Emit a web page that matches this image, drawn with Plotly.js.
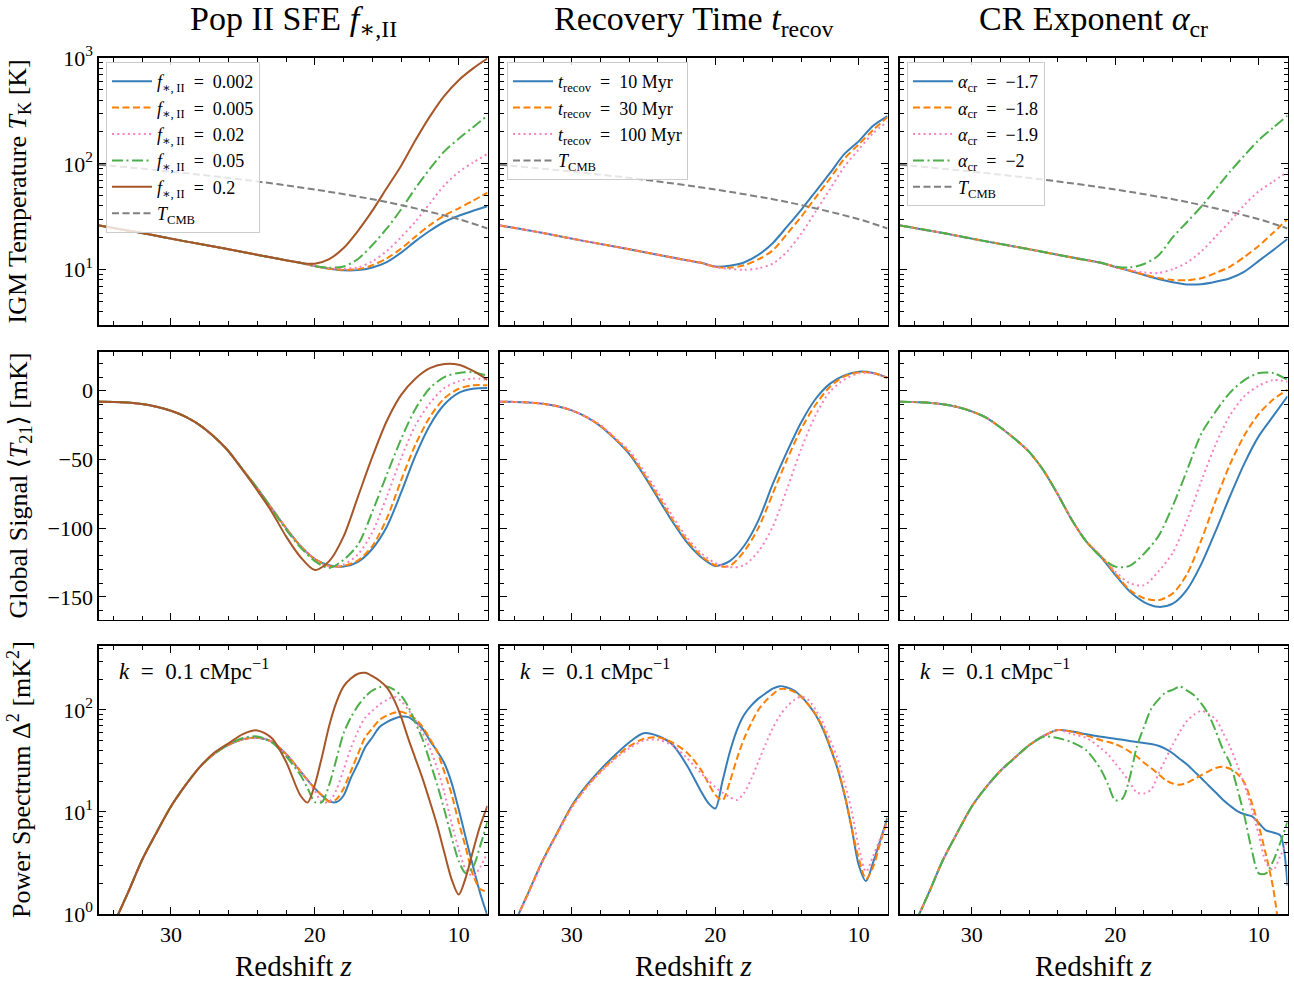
<!DOCTYPE html>
<html><head><meta charset="utf-8">
<script src="https://cdn.plot.ly/plotly-3.0.1.min.js"></script>
<style>html,body{margin:0;padding:0;background:#fff}#chart{width:1294px;height:981px}</style>
</head><body><div id="chart"></div>
<script>
// ---------------- DATA ----------------
// Row 1: IGM temperature T_K [K]
const zT = [35,32,29,26,23,21,20,19,18,17,16,15,14,13,12,11,10,9,8];
const zCMB = [35,30,25,20,15,10,8];
const tCMB = [98.1,84.5,70.9,57.2,43.6,30.0,24.5];

const tkSfe002 = [26.2,22.2,18.5,15.6,13.0,11.6,10.8,10.2,9.85,9.9,10.5,11.8,14.5,18.6,23.3,28.2,32.3,36.0,39.8];
const tkSfe005 = [26.2,22.2,18.5,15.6,13.0,11.6,10.8,10.2,9.95,10.1,11.0,12.8,15.8,20.6,26.4,32.5,38.0,44.9,53.5];
const tkSfe02  = [26.2,22.2,18.5,15.6,13.0,11.6,10.8,10.3,10.2,10.5,12.0,15.0,20.3,28.6,42.3,62.7,83.6,103,124];
const tkSfe05  = [26.2,22.2,18.5,15.6,13.0,11.6,10.8,10.45,10.7,12.6,17.1,24.5,37.2,59,90,131,173,222,286];
const tkSfe2   = [26.2,22.2,18.5,15.6,13.0,11.6,11.4,12.6,16.0,23.3,36.1,59,96,168,281,439,617,798,990];

const tkRec10  = [26.2,22.2,18.5,15.6,13.0,11.6,10.7,10.9,11.7,13.8,17.8,25.5,37,55,82,124,164,229,283];
const tkRec30  = [26.2,22.2,18.5,15.6,13.0,11.6,10.6,10.45,11.0,12.5,15.2,21.8,31.8,48.3,73,112,153,209,276];
const tkRec100 = [26.2,22.2,18.5,15.6,13.0,11.6,10.6,10.2,9.95,10.3,11.4,14.8,22,35.5,58,94,137,195,251];

const tkCr17 = [26.2,22.2,18.5,15.6,13.0,11.6,10.6,9.75,8.9,8.15,7.6,7.25,7.3,7.7,8.3,9.6,12.1,15.3,19.5];
const tkCr18 = [26.2,22.2,18.5,15.6,13.0,11.6,10.6,9.8,9.0,8.35,8.0,7.95,8.3,9.3,10.7,13.2,16.8,22.3,30];
const tkCr19 = [26.2,22.2,18.5,15.6,13.0,11.6,10.6,9.9,9.4,9.3,10.1,11.7,14.9,20.6,28.6,41,55,68,84];
const tkCr20 = [26.2,22.2,18.5,15.6,13.0,11.6,10.7,10.5,11.3,13.6,20.2,28.2,39.5,57.7,84.5,120,168,220,285];

// Row 2: global signal <T21> [mK]
const zG = [35,34,33,32,31,30,29,28,27,26,25,24,23,22,21,20,19,18,17,16,15,14,13,12,11,10,9,8];
const gsSfe002 = [-8.0,-8.1,-8.6,-9.7,-11.6,-14.5,-18.8,-25,-33.5,-44,-57.5,-71,-85.5,-100,-113,-122.5,-127,-128,-124.5,-115,-99,-74,-47,-25,-10,-1.5,1.5,2];
const gsSfe005 = [-8.0,-8.1,-8.6,-9.7,-11.6,-14.5,-18.8,-25,-33.5,-44,-57.5,-71,-85.5,-100,-113,-122.5,-127.5,-127.5,-123.5,-113,-93,-65,-39,-19,-5.5,1.5,4,4];
const gsSfe02  = [-8.0,-8.1,-8.6,-9.7,-11.6,-14.5,-18.8,-25,-33.5,-44,-57.5,-71,-85.5,-100,-113,-122.5,-128,-126.5,-119,-103,-77,-49,-25,-9,2,7,9,8];
const gsSfe05  = [-8.0,-8.1,-8.6,-9.7,-11.6,-14.5,-18.8,-25,-33.5,-44,-57.5,-71,-86,-101,-114,-124,-129,-123,-112,-88,-61,-35,-13,2,10,13,13.5,11];
const gsSfe2   = [-8.0,-8.1,-8.6,-9.7,-11.6,-14.5,-18.8,-25,-33.5,-44,-58,-72.5,-88,-106,-121,-130.5,-124,-106,-77,-48,-22,-3,9,16.5,19.5,19,14.5,8];

const gsRec10  = [-8.0,-8.1,-8.5,-9.5,-11.3,-14.3,-19,-25.7,-35,-46,-61,-78,-95,-110,-121,-127.5,-124,-113,-94.5,-68,-44.3,-22.7,-5.8,5.2,11.2,13.9,13,9.5];
const gsRec30  = [-8.0,-8.1,-8.5,-9.5,-11.3,-14.3,-19,-25.5,-34.5,-45,-60,-76.5,-93.5,-108.5,-120,-127,-127.5,-117,-100,-75,-50,-27.5,-10,3,10.5,13.5,13,9.5];
const gsRec100 = [-8.0,-8.1,-8.5,-9.5,-11.3,-14.2,-18.8,-25,-34,-43.5,-58,-74,-91,-106.5,-118,-125.5,-128.5,-127,-117,-99,-71.5,-42,-17.6,-0.5,8.2,12.8,12.8,9];

const gsCr17 = [-8.0,-8.2,-8.7,-9.8,-11.8,-15,-19.5,-26.7,-35,-44.5,-58,-75.5,-94.5,-110,-121,-134,-146,-153.8,-157.3,-155,-144.7,-126,-102,-76.6,-52.8,-33,-18.5,-4];
const gsCr18 = [-8.0,-8.2,-8.7,-9.8,-11.8,-15,-19.5,-26.7,-35,-44.5,-58,-75.5,-94.5,-110,-120.5,-133,-145,-151,-152.5,-147.6,-133.4,-108.6,-79.8,-53.4,-32.4,-16.8,-6.4,0.8];
const gsCr19 = [-8.0,-8.2,-8.7,-9.8,-11.8,-15,-19.5,-26.7,-35,-44.5,-58,-75.5,-94.5,-110,-120,-131.5,-140,-141.5,-131.6,-118,-94.2,-65.6,-38.9,-17.8,-3.9,3.7,7.8,6.6];
const gsCr20 = [-8.0,-8.2,-8.7,-9.8,-11.8,-15,-19.5,-26.7,-35,-44.5,-58,-75.5,-94.5,-110,-121,-128,-127.5,-118.6,-106,-84,-57.9,-31.1,-15,-1.3,7.8,12.9,12.9,8];

// Row 3: power spectrum Delta^2 [mK^2] at k = 0.1 cMpc^-1
const zP = [35,34,33,32,31,30,29,28,27,26,25,24,23,22,21,20.5,20,19.5,19,18.5,18,17.5,17,16.5,16,15.5,15,14.5,14,13.5,13,12.5,12,11.5,11,10.5,10,9.5,9,8.5,8];
const psSfe002 = [0.36,0.78,1.6,3.4,6.3,11.3,18.2,27.5,37,45.5,51.5,53.5,49,37,25,20.5,17,14.5,12.7,12.5,14.5,21.5,30,43,54,68,76,82,86,85,76,65,50,39.5,30,19.4,10.6,5.5,2.9,1.58,0.96];
const psSfe005 = [0.36,0.78,1.6,3.4,6.3,11.3,18.2,27.5,37,45.5,51.5,53.5,49,37,25,20.5,17,14.5,12.6,13.3,17,25,37,54,66,80,88,94,96,90,81,68,52,39,24.7,15,7.9,4.4,2.4,1.75,1.66];
const psSfe02  = [0.36,0.78,1.6,3.4,6.3,11.3,18.2,27.5,37,45.5,51.5,53.5,49,37,25,20.5,16,12.5,12.6,16.5,26,42,62,84,98,113,125,135,122,100,79,59,42,27,15.5,7.8,4.3,2.7,2.35,2.9,4.0];
const psSfe05  = [0.36,0.78,1.6,3.4,6.3,11.3,18.2,27.5,37,46,53,55,48,35,23,17,12.5,12.5,18.5,33,59,84,110,135,155,167,170,158,138,107,74,51,31,18.6,10.5,5.7,3.3,2.5,2.9,4.7,8];
const psSfe2   = [0.36,0.78,1.6,3.4,6.3,11.3,18.2,27.5,38,47,58,63,53,31,14.5,12.4,18.5,35,70,119,170,203,226,231,214,193,166,126,85,52,33,21,12.6,7.4,4.0,2.2,1.55,2.3,4.2,7.4,11.5];

const psRec10  = [0.36,0.8,1.65,3.4,6.3,11.5,18,26,36,48,59,55.5,46,29,16,12.3,10.8,20,38,63,89,110,129,145,162,171,166,155,135,112,89,65,43,27,14.8,7,3.0,2.1,3.2,5.3,8.8];
const psRec30  = [0.36,0.8,1.65,3.4,6.3,11.3,17.5,25,34,44,52,54,48,38.5,26,19.3,14.7,13,19.5,33,52,74,100,122,142,160,160,150,134,112,90,67,44,28,15,7,3.5,2.2,2.9,5,8.5];
const psRec100 = [0.36,0.8,1.6,3.3,6.1,11,17,24.5,33,42,50,51,45,34,24,20.5,17.5,15.5,14,13.1,15.3,21,31,46,66,88,108,125,135,125,100,75,51,34,19.7,10.3,4.5,2.6,3.7,5.5,7.8];

const psCr17 = [0.36,0.78,1.6,3.4,6.3,11.3,17.5,25.3,34,45,55.5,63.5,61.5,57.7,54.6,53.3,52.1,51,49.7,48.5,47.4,46.3,44.6,41.5,37.6,33,29.2,25,21.4,18.2,15.5,13.2,11.5,10.2,9.5,9.1,7.8,6.6,6.3,5.9,1.9];
const psCr18 = [0.36,0.78,1.6,3.4,6.3,11.3,17.5,25.3,34,45,55.5,63.5,61,56,50.5,48.5,46.2,43,39,35,30.3,27,23.5,20.5,19,18.5,19.3,21,23,25,27,27.7,26.5,23.7,19.3,12.4,7.3,3.8,1.8,0.6,0.25];
const psCr19 = [0.36,0.78,1.6,3.4,6.3,11.3,17.5,25.3,34,45,56,63.5,58,53,41.9,36.5,30,24.5,19.5,15.5,15.2,16.5,23.5,32.9,45.6,61,78,90,98,91,81,60,43.6,28.8,18.6,10.8,6.0,3.2,2.7,3.7,5.2];
const psCr20 = [0.36,0.78,1.6,3.4,6.3,11.3,17.5,25.3,34,45,54.5,53,48,40,26,18.5,13,13.5,21.5,43.6,68,102,126,148,157,169,155,139,115,90,62,41,30,17,9.1,4.3,2.5,2.5,3.3,5,8];

// Labels
const EQ = '\u00a0\u00a0=\u00a0\u00a0';
const FSUB = '<i>f</i><sub>∗,\u2009II</sub>';
const colTitles = ['Pop II SFE <i>f</i><sub>∗,II</sub>', 'Recovery Time <i>t</i><sub>recov</sub>', 'CR Exponent <i>α</i><sub>cr</sub>'];
const sfeLabels = [FSUB+EQ+'0.002', FSUB+EQ+'0.005', FSUB+EQ+'0.02', FSUB+EQ+'0.05', FSUB+EQ+'0.2'];
const recLabels = ['<i>t</i><sub>recov</sub>'+EQ+'10\u00a0Myr','<i>t</i><sub>recov</sub>'+EQ+'30\u00a0Myr','<i>t</i><sub>recov</sub>'+EQ+'100\u00a0Myr'];
const crLabels  = ['<i>α</i><sub>cr</sub>'+EQ+'−1.7','<i>α</i><sub>cr</sub>'+EQ+'−1.8','<i>α</i><sub>cr</sub>'+EQ+'−1.9','<i>α</i><sub>cr</sub>'+EQ+'−2'];
const cmbLabel = '<i>T</i><sub>CMB</sub>';
const yTitles = ['IGM Temperature <i>T</i><sub>K</sub> [K]', 'Global Signal ⟨<i>T</i><sub>21</sub>⟩ [mK]', 'Power Spectrum Δ<sup>2</sup> [mK<sup>2</sup>]'];
const xTitle = 'Redshift <i>z</i>';
const kLabel = '<i>k</i>'+EQ+'0.1\u00a0cMpc<sup>−1</sup>';
const xTickVals = [30,20,10];
const tkTickVals = [10,100,1000], tkTickText = ['10<sup>1</sup>','10<sup>2</sup>','10<sup>3</sup>'];
const gsTickVals = [0,-50,-100,-150], gsTickText = ['0','−50','−100','−150'];
const psTickVals = [1,10,100], psTickText = ['10<sup>0</sup>','10<sup>1</sup>','10<sup>2</sup>'];

// ---------------- STYLE ----------------
const FONT = 'Liberation Serif, DejaVu Serif, serif';
const C = {blue:'#377eb8', orange:'#ff7f00', pink:'#f781bf', green:'#4daf4a', brown:'#a65628', grey:'#808080'};
const D = {solid:'solid', dashed:'7px,3.5px', dotted:'2px,3.3px', dashdot:'11px,3.5px,2px,3.5px'};
const styles = [[C.blue,D.solid],[C.orange,D.dashed],[C.pink,D.dotted],[C.green,D.dashdot],[C.brown,D.solid]];

const cols = [
  {labels: sfeLabels, T:[tkSfe002,tkSfe005,tkSfe02,tkSfe05,tkSfe2], G:[gsSfe002,gsSfe005,gsSfe02,gsSfe05,gsSfe2], P:[psSfe002,psSfe005,psSfe02,psSfe05,psSfe2]},
  {labels: recLabels, T:[tkRec10,tkRec30,tkRec100], G:[gsRec10,gsRec30,gsRec100], P:[psRec10,psRec30,psRec100]},
  {labels: crLabels, T:[tkCr17,tkCr18,tkCr19,tkCr20], G:[gsCr17,gsCr18,gsCr19,gsCr20], P:[psCr17,psCr18,psCr19,psCr20]}
];

const W = 1294, H = 981;
const colPx = [[99,487.5],[500,887.5],[900,1287.5]];
const rowPx = [[58,325],[351.5,619.5],[646,914]];
const colDom = colPx.map(p => [p[0]/W, p[1]/W]);
const rowDom = rowPx.map(p => [1-p[1]/H, 1-p[0]/H]);

const traces = [];
const layout = {
  width: W, height: H, margin:{l:0,r:0,t:0,b:0},
  paper_bgcolor:'#fff', plot_bgcolor:'#fff',
  font:{family:FONT, size:22, color:'#000'},
  showlegend:true, annotations:[]
};

const rowZ = [zT, zG, zP];
const TICKFONT = {family:FONT, size:22, color:'#000'};
for (let c=0;c<3;c++){
  const col = cols[c];
  const legName = c===0 ? 'legend' : 'legend'+(c+1);
  for (let r=0;r<3;r++){
    const idx = r*3+c+1;
    const xa = 'x'+(idx===1?'':idx), ya = 'y'+(idx===1?'':idx);
    const series = r===0 ? col.T : (r===1 ? col.G : col.P);
    series.forEach((vals,s)=>{
      traces.push({
        x: rowZ[r], y: vals, xaxis: xa, yaxis: ya, type:'scatter', mode:'lines',
        name: col.labels[s], legend: legName, legendgroup: 'c'+c+'s'+s,
        showlegend: r===0,
        line:{color:styles[s][0], dash:styles[s][1], width:2, shape:'spline', smoothing:0.8},
        hoverinfo:'skip'
      });
    });
    if (r===0){
      traces.push({
        x: zCMB, y: tCMB, xaxis: xa, yaxis: ya, type:'scatter', mode:'lines',
        name: cmbLabel, legend: legName, legendgroup:'c'+c+'cmb', showlegend:true,
        line:{color:C.grey, dash:D.dashed, width:2, shape:'spline', smoothing:0.8},
        hoverinfo:'skip'
      });
    }
    const xKey = 'xaxis'+(idx===1?'':idx), yKey = 'yaxis'+(idx===1?'':idx);
    layout[xKey] = {
      domain: colDom[c], anchor: ya, range:[35,8], autorange:false,
      tickmode:'array', tickvals: xTickVals, ticks:'inside', ticklen:7, tickwidth:1, tickcolor:'#000',
      minor:{tickmode:'array', tickvals:[34,32,28,26,24,22,18,16,14,12,8], ticks:'inside', ticklen:4, tickwidth:1, tickcolor:'#000'},
      showline:true, linewidth:1.6, linecolor:'#000', mirror:'allticks',
      showgrid:false, zeroline:false, showticklabels: r===2,
      tickfont:TICKFONT
    };
    let yax = {
      domain: rowDom[r], anchor: xa, ticks:'inside', ticklen:7, tickwidth:1, tickcolor:'#000',
      showline:true, linewidth:1.6, linecolor:'#000', mirror:'allticks',
      showgrid:false, zeroline:false, showticklabels: c===0,
      tickfont:TICKFONT, tickmode:'array', autorange:false
    };
    if (r===0){
      Object.assign(yax, {type:'log', range:[Math.log10(3),3], tickvals:tkTickVals, ticktext:tkTickText,
        minor:{tickmode:'array', tickvals:[4,5,6,7,8,9,20,30,40,50,60,70,80,90,200,300,400,500,600,700,800,900], ticks:'inside', ticklen:4, tickwidth:1, tickcolor:'#000'}});
    } else if (r===1){
      Object.assign(yax, {type:'linear', range:[-166.5,28.6], tickvals:gsTickVals, ticktext:gsTickText,
        minor:{tickmode:'array', tickvals:[20,10,-10,-20,-30,-40,-60,-70,-80,-90,-110,-120,-130,-140,-160], ticks:'inside', ticklen:4, tickwidth:1, tickcolor:'#000'}});
    } else {
      Object.assign(yax, {type:'log', range:[0,Math.log10(423)], tickvals:psTickVals, ticktext:psTickText,
        minor:{tickmode:'array', tickvals:[2,3,4,5,6,7,8,9,20,30,40,50,60,70,80,90,200,300,400], ticks:'inside', ticklen:4, tickwidth:1, tickcolor:'#000'}});
    }
    layout[yKey] = yax;
  }
  layout[legName] = {
    x: (colPx[c][0]+7)/W, y: 1-62/H, xanchor:'left', yanchor:'top',
    bgcolor:'rgba(255,255,255,0.8)', bordercolor:'#cccccc', borderwidth:1,
    font:{family:FONT, size:18, color:'#000'}, itemwidth:40, tracegroupgap:0,
    traceorder:'normal'
  };
  const cx = (colPx[c][0]+colPx[c][1])/2/W;
  layout.annotations.push({text: colTitles[c], x: cx, y: 1-21/H, xref:'paper', yref:'paper', xanchor:'center', yanchor:'middle', showarrow:false, font:{family:FONT, size:34, color:'#000'}});
  layout.annotations.push({text: xTitle, x: cx, y: 1-966/H, xref:'paper', yref:'paper', xanchor:'center', yanchor:'middle', showarrow:false, font:{family:FONT, size:29, color:'#000'}});
  layout.annotations.push({text: kLabel, x: (colPx[c][0]+18)/W, y: 1-669/H, xref:'paper', yref:'paper', xanchor:'left', yanchor:'middle', showarrow:false, font:{family:FONT, size:23, color:'#000'}});
}
for (let r=0;r<3;r++){
  const cy = 1-((rowPx[r][0]+rowPx[r][1])/2)/H;
  layout.annotations.push({text: yTitles[r], x: 19/W, y: cy, xref:'paper', yref:'paper', xanchor:'center', yanchor:'middle', textangle:-90, showarrow:false, font:{family:FONT, size:26, color:'#000'}});
}

Plotly.newPlot('chart', traces, layout, {staticPlot:true, displayModeBar:false});
</script></body></html>
